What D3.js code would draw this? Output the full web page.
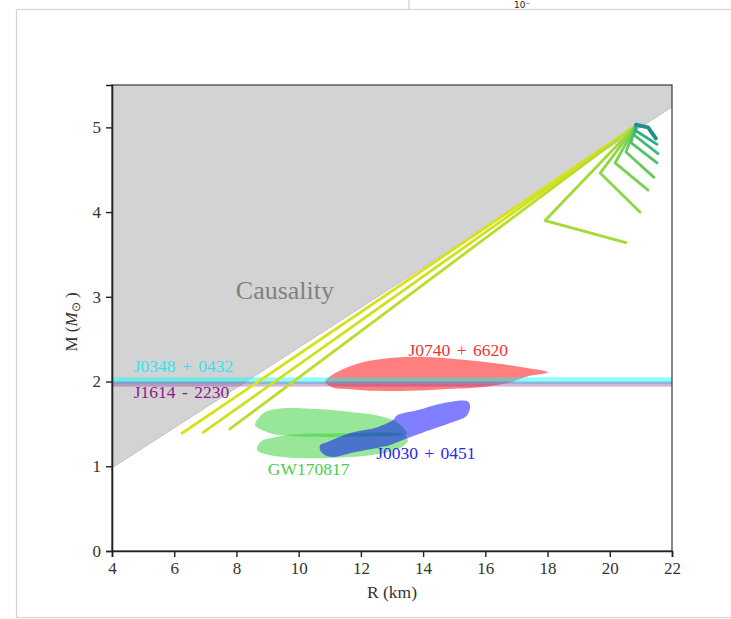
<!DOCTYPE html>
<html>
<head>
<meta charset="utf-8">
<script src="https://cdn.jsdelivr.net/npm/d3@7"></script>
<style>
html,body{margin:0;padding:0;background:#fff;}
svg{display:block;}
</style>
</head>
<body>
<svg id="chart" width="731" height="619"></svg>
<script>
// ---- data ----
const xTicks = [4, 6, 8, 10, 12, 14, 16, 18, 20, 22];
const yTicks = [0, 1, 2, 3, 4, 5];
const causalR = [4, 22];
const causalM = [0.98, 5.24];

const bandNames = ["J0348 + 0432", "J1614 - 2230"];
const bandMass = [2.01, 1.97];
const bandErr = [0.04, 0.03];

// M-R curves (R km, M Msun), all start at the common apex
const curveR = [
  [20.84, 6.25],
  [20.84, 6.93],
  [20.84, 7.79],
  [20.84, 17.92, 20.52],
  [20.84, 19.69, 20.97],
  [20.84, 20.17, 21.23],
  [20.84, 20.52, 21.42],
  [20.84, 20.68, 21.52],
  [20.84, 20.78, 21.55],
  [20.84, 20.84, 21.52],
  [20.84, 21.23, 21.48]
];
const curveM = [
  [5.02, 1.39],
  [5.02, 1.40],
  [5.02, 1.44],
  [5.02, 3.90, 3.64],
  [5.02, 4.46, 4.00],
  [5.02, 4.58, 4.26],
  [5.02, 4.71, 4.41],
  [5.02, 4.82, 4.58],
  [5.02, 4.91, 4.69],
  [5.02, 4.96, 4.80],
  [5.03, 5.00, 4.87]
];

// observational contours (R, M outline points)
const j0740R = [10.85, 11.22, 11.97, 13.03, 14.13, 15.19, 16.25, 17.34, 18.01, 17.34, 16.79, 15.73, 14.64, 13.58, 12.52, 11.65, 11.10];
const j0740M = [2.00, 2.11, 2.22, 2.28, 2.29, 2.26, 2.22, 2.16, 2.11, 2.06, 1.99, 1.93, 1.91, 1.89, 1.89, 1.91, 1.93];

const j0030R = [10.69, 10.91, 11.65, 12.52, 13.03, 13.16, 13.80, 14.64, 15.41, 15.51, 15.41, 14.86, 14.00, 13.48, 12.94, 12.52, 11.65, 11.10, 10.85, 10.69];
const j0030M = [1.25, 1.285, 1.39, 1.46, 1.545, 1.60, 1.66, 1.745, 1.77, 1.72, 1.60, 1.51, 1.40, 1.33, 1.25, 1.215, 1.155, 1.11, 1.13, 1.19];

const gwUpperR = [8.60, 8.76, 8.98, 9.50, 10.59, 11.65, 12.52, 13.03, 13.35, 13.48, 12.61, 11.01, 9.72, 9.01];
const gwUpperM = [1.486, 1.59, 1.65, 1.686, 1.675, 1.64, 1.60, 1.545, 1.46, 1.38, 1.356, 1.344, 1.356, 1.40];
const gwLowerR = [8.66, 8.82, 9.24, 10.04, 11.65, 12.94, 13.42, 13.51, 13.26, 12.71, 11.65, 10.04, 9.08, 8.69];
const gwLowerM = [1.215, 1.30, 1.344, 1.38, 1.39, 1.40, 1.368, 1.30, 1.215, 1.155, 1.11, 1.097, 1.13, 1.18];

// ---- styles ----
const curveColors = ["#d8e219", "#cde11d", "#b8de29", "#a2da37", "#8ed645", "#7ad151", "#65cb5e", "#4fc46a", "#3bbb75", "#2ab07f", "#218f8d"];
const serif = "'Liberation Serif', 'Times New Roman', serif";

const svg = d3.select("#chart");

// page/screen frame artifacts
svg.append("rect").attr("x", 0).attr("y", 0).attr("width", 731).attr("height", 619).attr("fill", "#fff");
svg.append("line").attr("x1", 409).attr("x2", 409).attr("y1", 0).attr("y2", 9).attr("stroke", "#cfcfcf").attr("stroke-width", 1.2);
svg.append("text").attr("x", 514).attr("y", 8).attr("font-family", "'DejaVu Sans', sans-serif").attr("font-size", 9).attr("fill", "#222").text("10⁻");
svg.append("rect").attr("x", 16.5).attr("y", 9.5).attr("width", 730).attr("height", 608).attr("fill", "#fff").attr("stroke", "#d4d4d4").attr("stroke-width", 1.2);

const x = d3.scaleLinear().domain([4, 22]).range([112, 672]);
const y = d3.scaleLinear().domain([0, 5.5]).range([551, 85]);

const defs = svg.append("defs");
defs.append("clipPath").attr("id", "plotclip").append("rect")
  .attr("x", x(4)).attr("y", y(5.5)).attr("width", x(22) - x(4)).attr("height", y(0) - y(5.5));

const g = svg.append("g").attr("clip-path", "url(#plotclip)");

// causality region
const causal = [[causalR[0], causalM[0]], [causalR[1], causalM[1]], [causalR[1], 5.5], [causalR[0], 5.5]];
g.append("path")
  .attr("d", d3.line().x(d => x(d[0])).y(d => y(d[1]))(causal) + "Z")
  .attr("fill", "#d3d3d3");
g.append("line")
  .attr("x1", x(causalR[0])).attr("y1", y(causalM[0]))
  .attr("x2", x(causalR[1])).attr("y2", y(causalM[1]))
  .attr("stroke", "#c4c4c4").attr("stroke-width", 1);

const closed = d3.line().x(d => x(d[0])).y(d => y(d[1])).curve(d3.curveCatmullRomClosed.alpha(0.5));
const zipPts = (rs, ms) => rs.map((r, i) => [r, ms[i]]);

// J0740
g.append("path").attr("d", closed(zipPts(j0740R, j0740M)))
  .attr("fill", "rgb(255,0,0)").attr("fill-opacity", 0.5);

// mass bands
const bandColors = ["rgb(0,255,255)", "rgb(150,40,150)"];
const bandOpac = [0.45, 0.35];
bandMass.forEach((m, i) => {
  g.append("rect")
    .attr("x", x(4)).attr("width", x(22) - x(4))
    .attr("y", y(m + bandErr[i])).attr("height", y(m - bandErr[i]) - y(m + bandErr[i]))
    .attr("fill", bandColors[i]).attr("fill-opacity", bandOpac[i]);
});

// GW170817
[zipPts(gwUpperR, gwUpperM), zipPts(gwLowerR, gwLowerM)].forEach(p => {
  g.append("path").attr("d", closed(p))
    .attr("fill", "rgb(50,205,50)").attr("fill-opacity", 0.5);
});

// J0030
g.append("path").attr("d", closed(zipPts(j0030R, j0030M)))
  .attr("fill", "rgb(0,0,255)").attr("fill-opacity", 0.5);

// M-R curves
const lineGen = d3.line().x(d => x(d[0])).y(d => y(d[1]));
curveR.forEach((rs, i) => {
  g.append("path").attr("d", lineGen(zipPts(rs, curveM[i])))
    .attr("fill", "none").attr("stroke", curveColors[i])
    .attr("stroke-width", i === curveR.length - 1 ? 4 : 2.8)
    .attr("stroke-linecap", "round").attr("stroke-linejoin", "round");
});

// frame
svg.append("rect").attr("x", x(4)).attr("y", y(5.5)).attr("width", x(22) - x(4)).attr("height", y(0) - y(5.5))
  .attr("fill", "none").attr("stroke", "#3a3a3a").attr("stroke-width", 1.2);

// axes
const xAxis = svg.append("g").attr("transform", `translate(0,${y(0)})`)
  .call(d3.axisBottom(x).tickValues(xTicks).tickSize(6).tickPadding(5).tickFormat(d3.format("d")));
const yAxis = svg.append("g").attr("transform", `translate(${x(4)},0)`)
  .call(d3.axisLeft(y).tickValues(yTicks).tickSize(6).tickPadding(5).tickFormat(d3.format("d")));
[xAxis, yAxis].forEach(a => {
  a.attr("font-family", serif).attr("font-size", 17);
  a.select(".domain").attr("stroke", "#222").attr("stroke-width", 1.6);
  a.selectAll(".tick line").attr("stroke", "#222").attr("stroke-width", 1.4);
  a.selectAll("text").attr("font-family", serif).attr("font-size", 17).attr("fill", "#333");
});

// axis titles
svg.append("text").attr("x", 392).attr("y", 598).attr("text-anchor", "middle")
  .attr("font-family", serif).attr("font-size", 17.5).attr("fill", "#333").text("R (km)");
const yl = svg.append("text").attr("transform", "translate(77,322) rotate(-90)").attr("text-anchor", "middle")
  .attr("font-family", serif).attr("font-size", 17).attr("fill", "#333");
yl.append("tspan").text("M (");
yl.append("tspan").attr("font-style", "italic").text("M");
yl.append("tspan").attr("font-size", 12).attr("dy", 3).text("⊙");
yl.append("tspan").attr("dy", -3).text(" )");

// annotations
const ann = (t, xr, ym, color, size) => svg.append("text").attr("x", x(xr)).attr("y", y(ym))
  .attr("font-family", serif).attr("font-size", size).attr("fill", color).attr("word-spacing", 2).text(t);
ann("Causality", 7.98, 2.98, "#808080", 26);
ann(bandNames[0], 4.7, 2.11, "#33e3ea", 17.5);
ann(bandNames[1], 4.7, 1.81, "#8b1a8b", 17.5);
ann("J0740 + 6620", 13.53, 2.30, "#ee3333", 17.5);
ann("J0030 + 0451", 12.49, 1.08, "#2a2ae6", 17.5);
ann("GW170817", 9.01, 0.90, "#49cf49", 17.5);
</script>
</body>
</html>
